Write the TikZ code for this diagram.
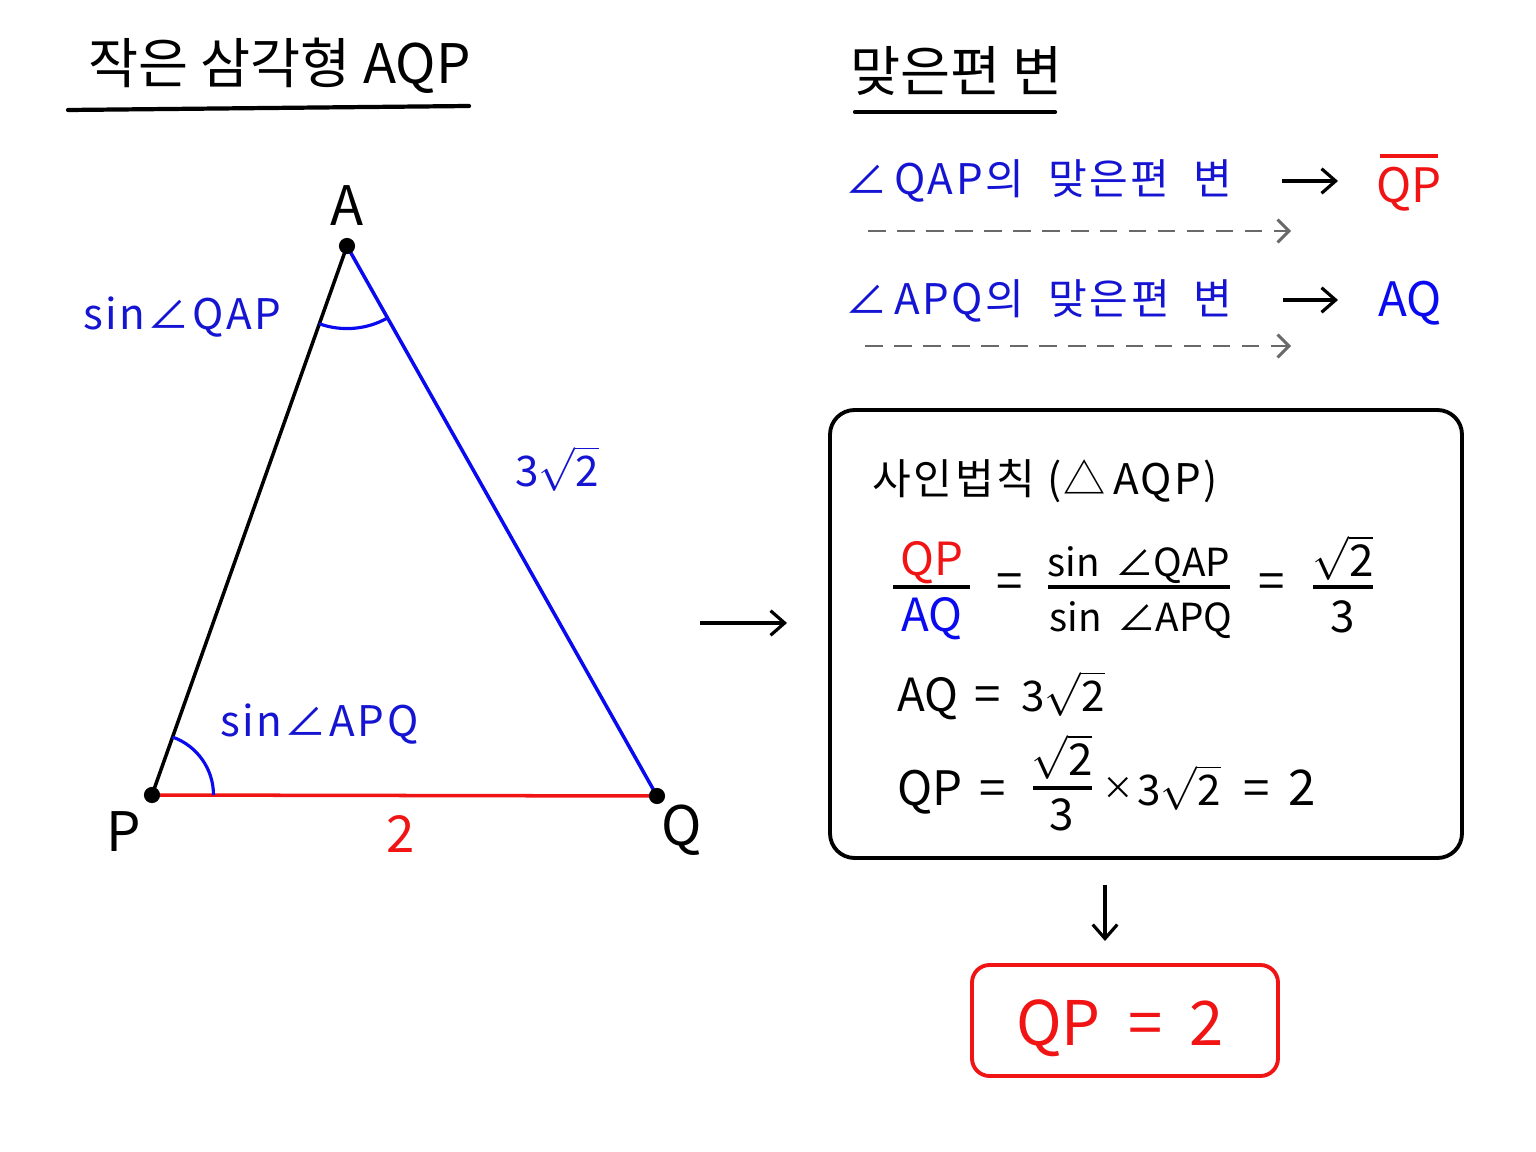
\documentclass[tikz,border=0pt]{standalone}
\usepackage{fontspec}
\setmainfont{Noto Sans CJK KR}
\newfontfamily\wf[LetterSpace=6]{Noto Sans CJK KR}
\usetikzlibrary{arrows.meta}
\definecolor{myblue}{RGB}{20,20,210}
\definecolor{lblue}{RGB}{10,10,240}
\definecolor{myred}{RGB}{240,20,20}
\definecolor{dgray}{RGB}{105,105,105}
\newcommand\fsz[1]{\fontsize{#1}{#1}\selectfont}
\newcommand\rtwo{$\sqrt{\mbox{2}}$}
\begin{document}
\begin{tikzpicture}[x=0.02cm,y=-0.02cm,
  lbl/.style={inner sep=0pt, anchor=base, text height=0.72em, text depth=0.12em},
  lblw/.style={lbl, anchor=base west},
  uline/.style={line width=2.4pt, line cap=round},
  arr/.style={line width=1.8pt, -{Straight Barb[length=8pt,width=14pt,line width=1.8pt]}},
  darr/.style={line width=1.7pt, dgray, dash pattern=on 10pt off 6.5pt, -{Straight Barb[length=6.5pt,width=13pt,line width=1.7pt]}},
  fbar/.style={line width=1.8pt},
  dot/.style={fill=black}]
\useasboundingbox (0,0) rectangle (1536,1152);
\fill[white] (0,0) rectangle (1536,1152);

% ---------- titles ----------
\node[lblw, font=\fsz{31}] (t1) at (88,84) {작은 삼각형 AQP};
\coordinate (u1a) at (68,110); \coordinate (u1b) at (469,106);
\draw[uline] (u1a) -- (u1b);

\node[lblw, font=\fsz{31}] (t2) at (850,92) {맞은편 변};
\coordinate (u2a) at (855,112); \coordinate (u2b) at (1055,112);
\draw[uline] (u2a) -- (u2b);

% ---------- triangle ----------
\coordinate (A) at (347,246);
\coordinate (P) at (152,795);
\coordinate (Q) at (657,796);
\draw[line width=2pt] (P) -- (A);
\draw[line width=2pt, lblue] (A) -- (Q);
\draw[line width=2pt, myred] (P) -- (Q);
\draw[line width=1.8pt, lblue] ([shift={(250.4:47pt)}]A) arc[start angle=250.4, end angle=299.4, radius=47pt];
\draw[line width=1.8pt, lblue] ([shift={(0:35pt)}]P) arc[start angle=0, end angle=70.4, radius=35pt];
\fill[dot] (A) circle (4.6pt);
\fill[dot] (P) circle (4.6pt);
\fill[dot] (Q) circle (4.6pt);

\node[lbl, font=\fsz{31}] (lA) at (347,226) {A};
\node[lbl, font=\fsz{31}] (lP) at (124,851) {P};
\node[lbl, font=\fsz{31}] (lQ) at (682,845) {Q};
\node[lbl, font=\fsz{29}, myred] (l2) at (401,852) {2};
\node[lbl, font=\fsz{24}, myblue] (l32) at (557,486) {3\rtwo};
\node[lblw, font=\wf\fsz{24}, myblue] (sQAP) at (83,330) {sin∠QAP};
\node[lblw, font=\wf\fsz{24}, myblue] (sAPQ) at (220,736) {sin∠APQ};

% ---------- middle arrow ----------
\coordinate (m1) at (700,623); \coordinate (m2) at (787,623);
\draw[arr] (m1) -- (m2);

% ---------- opposite side rows ----------
\node[lblw, font=\wf\fsz{24}, myblue] (r1) at (845,195) {∠\,QAP의 \ 맞은편 \ 변};
\coordinate (r1a) at (1282,181); \coordinate (r1b) at (1338,181);
\draw[arr] (r1a) -- (r1b);
\node[lbl, font=\fsz{27}, myred] (r1v) at (1409,203) {QP};
\coordinate (ov1) at (1380,156); \coordinate (ov2) at (1438,156);
\draw[line width=2pt, myred] (ov1) -- (ov2);
\coordinate (d1a) at (868,231); \coordinate (d1b) at (1291,231);
\draw[darr] (d1a) -- (d1b);

\node[lblw, font=\wf\fsz{24}, myblue] (r2) at (845,315) {∠\,APQ의 \ 맞은편 \ 변};
\coordinate (r2a) at (1283,300); \coordinate (r2b) at (1338,300);
\draw[arr] (r2a) -- (r2b);
\node[lbl, font=\fsz{27}, lblue] (r2v) at (1410,317) {AQ};
\coordinate (d2a) at (865,346); \coordinate (d2b) at (1291,346);
\draw[darr] (d2a) -- (d2b);

% ---------- sine law box ----------
\draw[line width=2.2pt, rounded corners=14pt] (830,410) rectangle (1462,858);
\node[lblw, font=\wf\fsz{24}] (bt) at (872,494) {사인법칙 (△\,AQP)};

% fraction 1
\node[lbl, font=\fsz{26}, myred] (f1n) at (932,575) {QP};
\node[lbl, font=\fsz{26}, lblue] (f1d) at (932,631) {AQ};
\coordinate (f1a) at (893,587); \coordinate (f1b) at (970,587);
\draw[fbar] (f1a) -- (f1b);
\node[lbl, font=\fsz{27}] (eq1) at (1010,598) {=};
% fraction 2
\node[lbl, font=\fsz{22}] (f2n) at (1139,576) {sin \,∠QAP};
\node[lbl, font=\fsz{22}] (f2d) at (1141,631) {sin \,∠APQ};
\coordinate (f2a) at (1048,587); \coordinate (f2b) at (1230,587);
\draw[fbar] (f2a) -- (f2b);
\node[lbl, font=\fsz{27}] (eq2) at (1272,598) {=};
% fraction 3
\node[lbl, font=\fsz{25}] (f3n) at (1343,576) {\rtwo};
\node[lbl, font=\fsz{25}] (f3d) at (1343,632) {3};
\coordinate (f3a) at (1313,587); \coordinate (f3b) at (1373,587);
\draw[fbar] (f3a) -- (f3b);

% AQ = 3 sqrt2
\node[lblw, font=\fsz{26}] (aq) at (897,711) {AQ};
\node[lbl, font=\fsz{27}] (eq5) at (988,711) {=};
\node[lbl, font=\fsz{24}] (aqv) at (1063,711) {3\rtwo};

% QP = sqrt2/3 x 3sqrt2 = 2
\node[lblw, font=\fsz{27}] (qp) at (897,805) {QP};
\node[lbl, font=\fsz{27}] (eq3) at (993,805) {=};
\node[lbl, font=\fsz{25}] (f4n) at (1062,775) {\rtwo};
\node[lbl, font=\fsz{25}] (f4d) at (1062,830) {3};
\coordinate (f4a) at (1033,788); \coordinate (f4b) at (1092,788);
\draw[fbar] (f4a) -- (f4b);
\node[lbl, font=\fsz{18}] (times) at (1118,799) {×};
\node[lbl, font=\fsz{24}] (t32) at (1179,805) {3\rtwo};
\node[lbl, font=\fsz{27}] (eq4) at (1257,805) {=};
\node[lbl, font=\fsz{28}] (two) at (1302,805) {2};

% ---------- result ----------
\coordinate (dn1) at (1105,885); \coordinate (dn2) at (1105,941);
\draw[arr] (dn1) -- (dn2);
\draw[line width=2.2pt, myred, rounded corners=10pt] (972,965) rectangle (1278,1076);
\node[lbl, font=\fsz{35}, myred] (res) at (1120,1045) {QP \ = \ 2};
\end{tikzpicture}
\end{document}
